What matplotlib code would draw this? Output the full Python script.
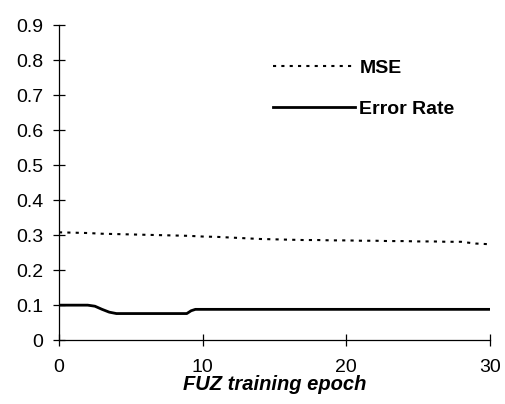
import matplotlib
matplotlib.use('Agg')
import matplotlib.pyplot as plt

plt.rcParams['font.family'] = ['Liberation Sans', 'DejaVu Sans']
plt.rcParams['font.size'] = 14

# ---- data ----
mse_epoch = list(range(0, 31))
mse = [0.308, 0.307, 0.306, 0.304, 0.303, 0.302, 0.301, 0.300, 0.299, 0.298,
       0.296, 0.295, 0.293, 0.291, 0.289, 0.288, 0.287, 0.286, 0.286, 0.285,
       0.285, 0.284, 0.284, 0.283, 0.283, 0.282, 0.282, 0.281, 0.281, 0.276,
       0.274]

err_epoch = [0, 1, 2, 2.5, 3, 3.5, 4, 5, 6, 7, 8, 8.9, 9.2, 9.5, 10, 15, 20, 25, 30]
err_rate = [0.100, 0.100, 0.100, 0.097, 0.088, 0.080, 0.076, 0.076, 0.076, 0.076,
            0.076, 0.076, 0.084, 0.088, 0.088, 0.088, 0.088, 0.088, 0.088]

xticks = [0, 10, 20, 30]
yticks = [0, 0.1, 0.2, 0.3, 0.4, 0.5, 0.6, 0.7, 0.8, 0.9]
ytick_labels = ['0', '0.1', '0.2', '0.3', '0.4', '0.5', '0.6', '0.7', '0.8', '0.9']

fig = plt.figure(figsize=(5.06, 4.04), dpi=100)
ax = fig.add_axes([0.1166, 0.158, 0.8514, 0.78])

ax.plot(mse_epoch, mse, color='black', linestyle=(0, (1.5, 2.5)), linewidth=1.5, label='MSE')
ax.plot(err_epoch, err_rate, color='black', linestyle='-', linewidth=2.0, label='Error Rate')

ax.set_xlim(0, 30)
ax.set_ylim(0, 0.9)
ax.set_xticks(xticks)
ax.set_yticks(yticks)
ax.set_yticklabels(ytick_labels)
ax.tick_params(direction='inout', length=8.6, width=0.9, labelsize=14)
ax.tick_params(axis='y', pad=7)
ax.tick_params(axis='x', pad=9.5)
for side in ['top', 'right']:
    ax.spines[side].set_visible(False)
for side in ['left', 'bottom']:
    ax.spines[side].set_linewidth(0.9)

ax.set_xlabel('FUZ training epoch', fontweight='bold', fontstyle='italic',
              fontsize=14.5, labelpad=-1)

ax.legend(loc='upper left', bbox_to_anchor=(0.4965, 0.892), frameon=False,
          borderpad=0, borderaxespad=0,
          handlelength=4.2, handletextpad=0.25, labelspacing=1.2,
          prop={'weight': 'bold', 'size': 14})

fig.savefig('out.png', dpi=100)
